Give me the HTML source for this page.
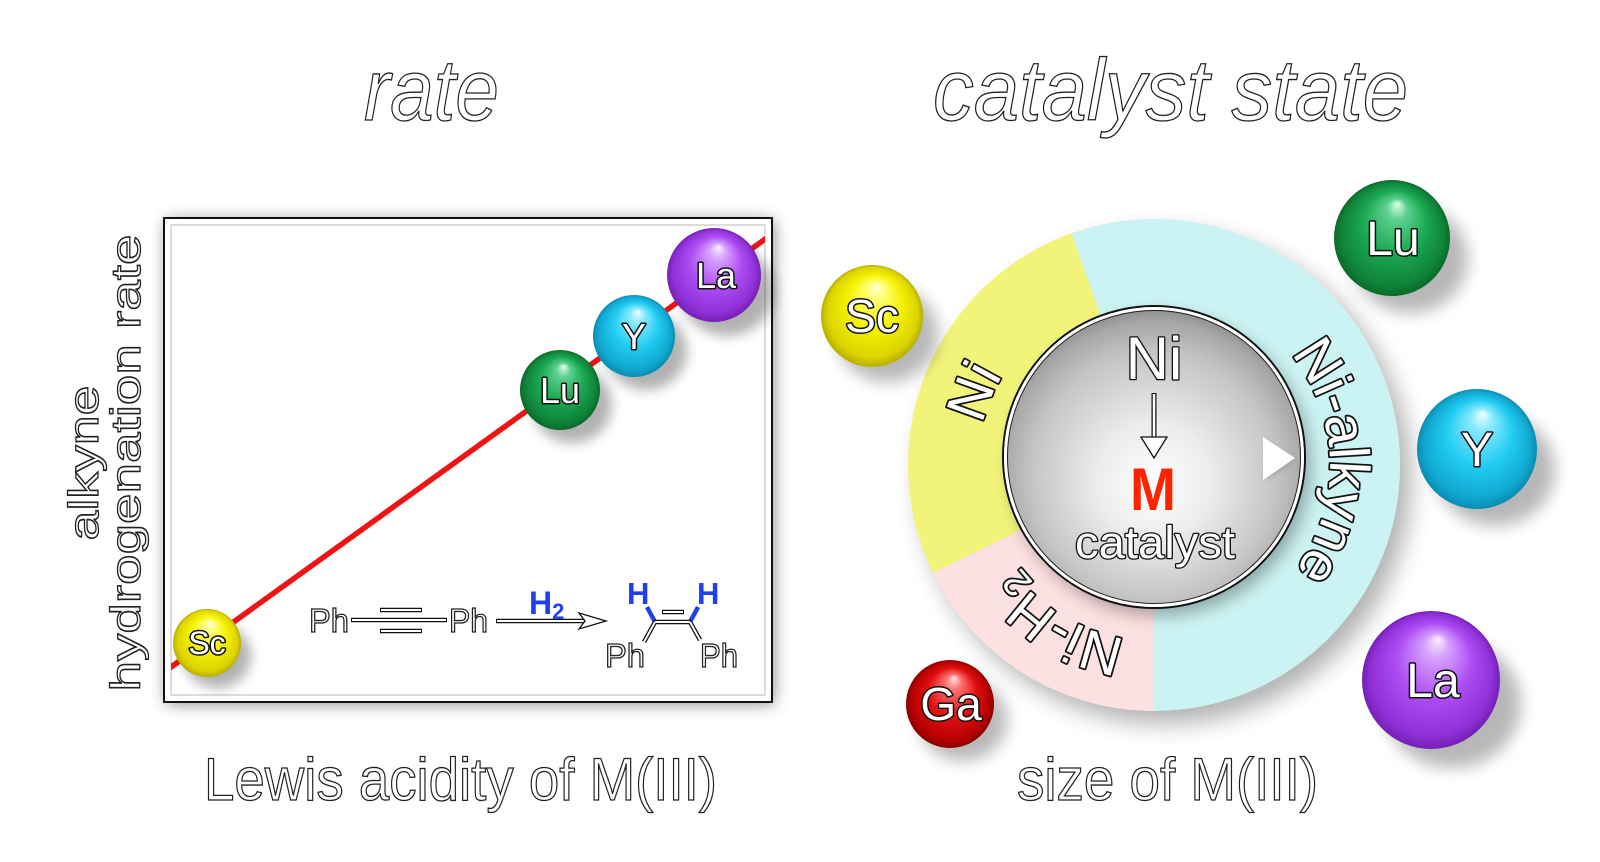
<!DOCTYPE html>
<html><head><meta charset="utf-8">
<style>
html,body{margin:0;padding:0;background:#fff;}
svg{display:block;}
text{font-family:"Liberation Sans",sans-serif;}
.o{fill:#fff;stroke:#222;stroke-width:1.3px;}
.b{fill:#fff;stroke:#111;stroke-width:3px;paint-order:stroke;stroke-linejoin:round;}
.r{fill:#fff;stroke:#111;stroke-width:3.5px;paint-order:stroke;stroke-linejoin:round;}
.s{fill:#fff;stroke:#111;stroke-width:2.6px;paint-order:stroke;stroke-linejoin:round;}
.bk{stroke:#111;stroke-width:4.5;stroke-linecap:butt;}
.wh{stroke:#fff;stroke-width:2;stroke-linecap:butt;}
</style></head><body>
<svg width="1600" height="862" viewBox="0 0 1600 862" xmlns="http://www.w3.org/2000/svg">
<defs>
  <filter id="bl8" x="-50%" y="-50%" width="200%" height="200%"><feGaussianBlur stdDeviation="8"/></filter>
  <filter id="bl12" x="-50%" y="-50%" width="200%" height="200%"><feGaussianBlur stdDeviation="12"/></filter>
  <filter id="bl3" x="-50%" y="-50%" width="200%" height="200%"><feGaussianBlur stdDeviation="3"/></filter>
  <filter id="bl6" x="-50%" y="-50%" width="200%" height="200%"><feGaussianBlur stdDeviation="6"/></filter>
  <radialGradient id="gYe" cx="0.5" cy="0.5" r="0.5" fx="0.55" fy="0.2">
    <stop offset="0" stop-color="#ffffe0"/><stop offset="0.18" stop-color="#ffff70"/>
    <stop offset="0.55" stop-color="#f4f000"/><stop offset="0.88" stop-color="#dcd400"/><stop offset="1" stop-color="#b8ae00"/>
  </radialGradient>
  <radialGradient id="gGr" cx="0.5" cy="0.5" r="0.5" fx="0.55" fy="0.2">
    <stop offset="0" stop-color="#e0ffe8"/><stop offset="0.18" stop-color="#5cd090"/>
    <stop offset="0.55" stop-color="#1aa850"/><stop offset="0.88" stop-color="#10843a"/><stop offset="1" stop-color="#0a6a2a"/>
  </radialGradient>
  <radialGradient id="gCy" cx="0.5" cy="0.5" r="0.5" fx="0.55" fy="0.2">
    <stop offset="0" stop-color="#f0ffff"/><stop offset="0.18" stop-color="#8aeaff"/>
    <stop offset="0.55" stop-color="#22ccf2"/><stop offset="0.88" stop-color="#10a8d0"/><stop offset="1" stop-color="#0a8cb0"/>
  </radialGradient>
  <radialGradient id="gPu" cx="0.5" cy="0.5" r="0.5" fx="0.55" fy="0.2">
    <stop offset="0" stop-color="#fbefff"/><stop offset="0.18" stop-color="#d6a0ff"/>
    <stop offset="0.55" stop-color="#ac4cf2"/><stop offset="0.88" stop-color="#9030d8"/><stop offset="1" stop-color="#7420b4"/>
  </radialGradient>
  <radialGradient id="gRe" cx="0.5" cy="0.5" r="0.5" fx="0.55" fy="0.2">
    <stop offset="0" stop-color="#ffe8e8"/><stop offset="0.18" stop-color="#ff7070"/>
    <stop offset="0.55" stop-color="#e01010"/><stop offset="0.88" stop-color="#b80000"/><stop offset="1" stop-color="#8a0000"/>
  </radialGradient>
  <radialGradient id="gS" cx="0.5" cy="0.55" r="0.55" fx="0.5" fy="0.6">
    <stop offset="0" stop-color="#ffffff"/><stop offset="0.35" stop-color="#ececec"/>
    <stop offset="0.75" stop-color="#c4c4c4"/><stop offset="0.92" stop-color="#a6a6a6"/><stop offset="1" stop-color="#8a8a8a"/>
  </radialGradient>
  <clipPath id="pc"><rect x="171" y="225" width="594" height="470"/></clipPath>
  <path id="rp" d="M 978 465 A 176 176 0 1 1 1330 465 A 176 176 0 1 1 978 465"/>
</defs>

<!-- Titles -->
<text class="o" x="364" y="120" font-size="87" font-style="italic" textLength="135" lengthAdjust="spacingAndGlyphs">rate</text>
<text class="o" x="933" y="120" font-size="87" font-style="italic" textLength="475" lengthAdjust="spacingAndGlyphs">catalyst state</text>

<!-- Y axis label -->
<text class="o" transform="translate(98,463) rotate(-90)" text-anchor="middle" font-size="42" textLength="155" lengthAdjust="spacingAndGlyphs">alkyne</text>
<text class="o" transform="translate(140,463) rotate(-90)" text-anchor="middle" font-size="42" textLength="457" lengthAdjust="spacingAndGlyphs">hydrogenation rate</text>

<!-- X axis labels -->
<text class="o" x="204" y="800" font-size="60" textLength="513" lengthAdjust="spacingAndGlyphs">Lewis acidity of M(III)</text>
<text class="o" x="1017" y="800" font-size="60" textLength="301" lengthAdjust="spacingAndGlyphs">size of M(III)</text>

<!-- Left panel frame -->
<rect x="166" y="220" width="608" height="484" fill="#000" opacity="0.45" filter="url(#bl8)"/>
<rect x="164" y="218" width="608" height="484" fill="#fff" stroke="#111" stroke-width="2"/>
<rect x="171" y="225" width="594" height="470" fill="none" stroke="#d0d0d0" stroke-width="1.5"/>

<!-- red line -->
<g clip-path="url(#pc)">
  <line x1="160" y1="675" x2="775" y2="232" stroke="#ee1414" stroke-width="5.5"/>
</g>

<!-- left balls -->
<g>
  <ellipse cx="217" cy="656" rx="34" ry="32" fill="#000" opacity="0.3" filter="url(#bl6)"/>
  <circle cx="207" cy="643" r="34" fill="url(#gYe)"/>
  <text class="b" x="207" y="654" font-size="32" text-anchor="middle">Sc</text>

  <ellipse cx="572" cy="405" rx="40" ry="38" fill="#000" opacity="0.3" filter="url(#bl6)"/>
  <circle cx="560" cy="390" r="40" fill="url(#gGr)"/>
  <text class="b" x="560" y="403" font-size="36" text-anchor="middle">Lu</text>

  <ellipse cx="646" cy="351" rx="41" ry="39" fill="#000" opacity="0.3" filter="url(#bl6)"/>
  <circle cx="634" cy="336" r="41" fill="url(#gCy)"/>
  <text class="b" x="634" y="349" font-size="36" text-anchor="middle">Y</text>

  <ellipse cx="727" cy="291" rx="47" ry="45" fill="#000" opacity="0.3" filter="url(#bl6)"/>
  <circle cx="714" cy="275" r="47" fill="url(#gPu)"/>
  <text class="b" x="716" y="288" font-size="36" text-anchor="middle">La</text>
</g>

<!-- reaction scheme -->
<g>
  <text class="o" x="309" y="632" font-size="33" textLength="40" lengthAdjust="spacingAndGlyphs">Ph</text>
  <line class="bk" x1="351" y1="620" x2="447" y2="620"/><line class="wh" x1="352" y1="620" x2="446" y2="620"/>
  <line class="bk" x1="380" y1="610" x2="422" y2="610"/><line class="wh" x1="381" y1="610" x2="421" y2="610"/>
  <line class="bk" x1="380" y1="631" x2="422" y2="631"/><line class="wh" x1="381" y1="631" x2="421" y2="631"/>
  <text class="o" x="449" y="632" font-size="33" textLength="39" lengthAdjust="spacingAndGlyphs">Ph</text>

  <line class="bk" x1="496" y1="621" x2="588" y2="621"/><line class="wh" x1="497" y1="621" x2="588" y2="621"/>
  <polygon points="579,613 606,621 579,629 585,621" fill="#fff" stroke="#111" stroke-width="1.3"/>
  <text x="529" y="614" font-size="32" font-weight="bold" fill="#1f3ff0">H<tspan font-size="22" dy="5">2</tspan></text>

  <line x1="655" y1="622" x2="647" y2="607" stroke="#1f3ff0" stroke-width="4.5"/>
  <line x1="690" y1="622" x2="698" y2="607" stroke="#1f3ff0" stroke-width="4.5"/>
  <text x="627" y="604" font-size="31" font-weight="bold" fill="#1f3ff0">H</text>
  <text x="697" y="604" font-size="31" font-weight="bold" fill="#1f3ff0">H</text>
  <line class="bk" x1="654" y1="622" x2="691" y2="622"/><line class="wh" x1="655" y1="622" x2="690" y2="622"/>
  <line class="bk" x1="662" y1="612" x2="684" y2="612"/><line class="wh" x1="663" y1="612" x2="683" y2="612"/>
  <line class="bk" x1="655" y1="622" x2="644" y2="642"/><line class="wh" x1="655" y1="622" x2="644" y2="642"/>
  <line class="bk" x1="690" y1="622" x2="700" y2="640"/><line class="wh" x1="690" y1="622" x2="700" y2="640"/>
  <text class="o" x="605" y="667" font-size="33" textLength="40" lengthAdjust="spacingAndGlyphs">Ph</text>
  <text class="o" x="700" y="667" font-size="33" textLength="38" lengthAdjust="spacingAndGlyphs">Ph</text>
</g>

<!-- Ring -->
<circle cx="1165" cy="478" r="246" fill="#000" opacity="0.3" filter="url(#bl12)"/>
<path d="M1154 465 L1154 711 A246 246 0 0 1 932.9 572.8 Z" fill="#fde0e1"/>
<path d="M1154 465 L932.9 572.8 A246 246 0 0 1 1071.5 233.3 Z" fill="#f2f47a"/>
<path d="M1154 465 L1071.5 233.3 A246 246 0 1 1 1154 711 Z" fill="#ccf3f3"/>

<!-- ring labels -->
<text class="r" font-size="56" text-anchor="middle"><textPath href="#rp" startOffset="6.1%">Ni</textPath></text>
<text class="r" font-size="56" text-anchor="middle"><textPath href="#rp" startOffset="49.7%">Ni-alkyne</textPath></text>
<text class="r" font-size="56" text-anchor="middle"><textPath href="#rp" startOffset="83.6%">Ni-H<tspan font-size="38" dy="8">2</tspan></textPath></text>

<!-- inner sphere -->
<circle cx="1160" cy="465" r="151" fill="#000" opacity="0.3" filter="url(#bl8)"/>
<circle cx="1154" cy="457" r="150" fill="url(#gS)"/>
<circle cx="1154" cy="457" r="151" fill="none" stroke="#111" stroke-width="2"/>
<circle cx="1154" cy="457" r="148.5" fill="none" stroke="#fff" stroke-width="3"/>
<circle cx="1154" cy="457" r="146.5" fill="none" stroke="#222" stroke-width="1"/>

<text class="s" x="1154" y="379" font-size="60" text-anchor="middle">Ni</text>
<line x1="1154" y1="393" x2="1154" y2="440" stroke="#111" stroke-width="5"/>
<line x1="1154" y1="394" x2="1154" y2="440" stroke="#fff" stroke-width="2.5"/>
<polygon points="1141,437 1167,437 1154,458" fill="#fff" stroke="#111" stroke-width="1.3"/>
<text x="1153" y="510" font-size="60" font-weight="bold" fill="#ff2400" text-anchor="middle" textLength="46" lengthAdjust="spacingAndGlyphs">M</text>
<text class="s" x="1155" y="558" font-size="45" text-anchor="middle" textLength="160" lengthAdjust="spacingAndGlyphs" stroke-width="2.2">catalyst</text>
<polygon points="1265,440 1297,461 1265,482" fill="#888" opacity="0.4" filter="url(#bl3)"/>
<polygon points="1263,437 1295,458 1263,480" fill="#fff"/>

<!-- right balls -->
<g>
  <ellipse cx="887" cy="334" rx="51" ry="48" fill="#000" opacity="0.28" filter="url(#bl8)"/>
  <circle cx="872" cy="316" r="51" fill="url(#gYe)"/>
  <text class="b" x="872" y="332" font-size="46" text-anchor="middle">Sc</text>

  <ellipse cx="1410" cy="259" rx="58" ry="54" fill="#000" opacity="0.28" filter="url(#bl8)"/>
  <circle cx="1392" cy="238" r="58" fill="url(#gGr)"/>
  <text class="b" x="1393" y="255" font-size="48" text-anchor="middle">Lu</text>

  <ellipse cx="1495" cy="470" rx="60" ry="56" fill="#000" opacity="0.28" filter="url(#bl8)"/>
  <circle cx="1477" cy="449" r="60" fill="url(#gCy)"/>
  <text class="b" x="1477" y="466" font-size="48" text-anchor="middle">Y</text>

  <ellipse cx="1452" cy="704" rx="69" ry="64" fill="#000" opacity="0.28" filter="url(#bl8)"/>
  <circle cx="1431" cy="680" r="69" fill="url(#gPu)"/>
  <text class="b" x="1433" y="697" font-size="48" text-anchor="middle">La</text>

  <ellipse cx="963" cy="720" rx="44" ry="41" fill="#000" opacity="0.28" filter="url(#bl8)"/>
  <circle cx="950" cy="704" r="44" fill="url(#gRe)"/>
  <text class="b" x="951" y="720" font-size="46" text-anchor="middle">Ga</text>
</g>
</svg>
</body></html>
